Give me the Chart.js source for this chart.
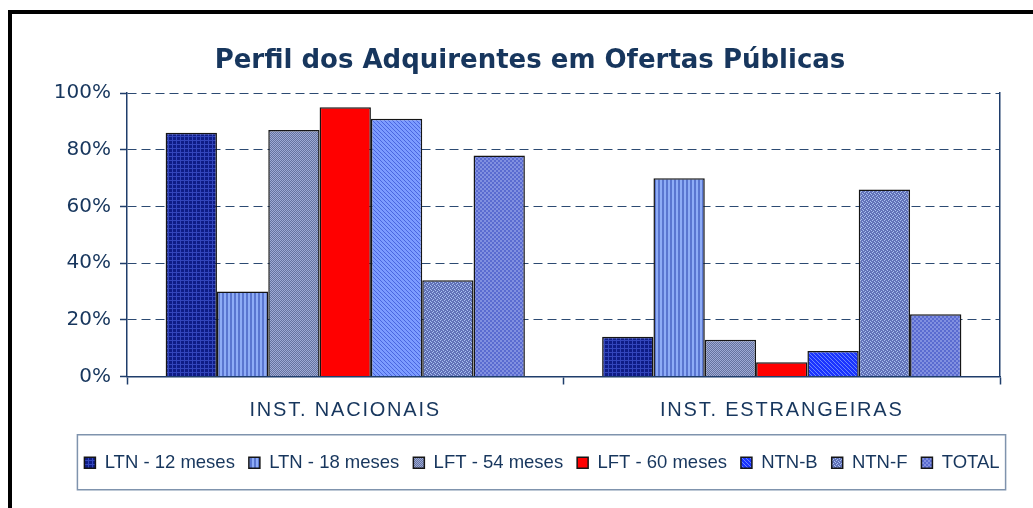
<!DOCTYPE html>
<html>
<head>
<meta charset="utf-8">
<script src="https://cdn.jsdelivr.net/npm/chart.js@4.4.1/dist/chart.umd.min.js"></script>
<style>
  html, body { margin: 0; padding: 0; background: #fff; overflow: hidden; }
  #frame { position: absolute; left: 8px; top: 10px; width: 2000px; height: 2000px;
           border-left: 4px solid #000; border-top: 4px solid #000; }
  #myChart { position: absolute; left: 0; top: 0; }
</style>
</head>
<body>
<div id="frame"></div>
<canvas id="myChart" width="1033" height="508"></canvas>
<script>
// data (percent)
const categories = ['INST. NACIONAIS', 'INST. ESTRANGEIRAS'];
const seriesNames = ['LTN - 12 meses', 'LTN - 18 meses', 'LFT - 54 meses', 'LFT - 60 meses', 'NTN-B', 'NTN-F', 'TOTAL'];
const ltn12 = [86, 14];
const ltn18 = [30, 70];
const lft54 = [87, 13];
const lft60 = [95, 5];
const ntnB = [91, 9];
const ntnF = [34, 66];
const total = [78, 22];

const NAVY = '#17365d';
const AXIS = '#1f3d6b';

// small repeating fill textures, like the excel patterns
function makePattern(size, bg, fg, test) {
    var c = document.createElement('canvas');
    c.width = size; c.height = size;
    var g = c.getContext('2d');
    g.fillStyle = bg;
    g.fillRect(0, 0, size, size);
    g.fillStyle = fg;
    for (var x = 0; x < size; x++) {
        for (var y = 0; y < size; y++) {
            if (test(x, y)) g.fillRect(x, y, 1, 1);
        }
    }
    return g.createPattern(c, 'repeat');
}

var pLtn12 = makePattern(4, '#0e1c86', '#3346bc', (x, y) => x === 0 || y === 0);
var pLtn18 = makePattern(4, '#5a76d0', '#8eacf6', (x, y) => x < 2);
var pLft54 = makePattern(4, '#65739f', '#9eaad6', (x, y) => (x + y) % 2 === 0);
var pNtnB = makePattern(4, '#1a34ff', '#6a86ff', (x, y) => x === y);
var pNtnBLight = makePattern(4, '#7c9cff', '#4a66e0', (x, y) => x === y);
var pNtnF = makePattern(4, '#6272b8', '#a8c0f0', (x, y) => (x === 0 && y === 0) || (x === 2 && y === 1) || (x === 1 && y === 3) || (x === 3 && y === 2));
var pTotal = makePattern(4, '#5a6bd0', '#8190e0', (x, y) => ((x >> 1) + (y >> 1)) % 2 === 0);

const seriesValues = [ltn12, ltn18, lft54, lft60, ntnB, ntnF, total];
const seriesFills = [pLtn12, pLtn18, pLft54, '#ff0000', [pNtnBLight, pNtnB], pNtnF, pTotal];
const legendFills = [pLtn12, pLtn18, pLft54, '#ff0000', pNtnB, pNtnF, pTotal];

var datasets = seriesNames.map((name, i) => ({
    label: name,
    data: seriesValues[i],
    backgroundColor: seriesFills[i],
    borderColor: '#151515',
    borderWidth: 1.5,
    barPercentage: 1,
    categoryPercentage: 0.823
}));

// extra drawing: legend frame, title/legend offset, spaced x labels
var framePlugin = {
    id: 'framePlugin',
    afterLayout(chart) {
        if (chart.titleBlock) chart.titleBlock.left += 20;
        if (chart.legend) {
            chart.legend.left += 22;
            chart.legend.right += 22;
        }
    },
    beforeDraw(chart) {
        var s = chart.scales.x;
        if (s && !s._spaced) {
            var orig = s.drawLabels;
            s.drawLabels = function (area) {
                var c = this.ctx;
                c.save();
                c.letterSpacing = '1.8px';
                orig.call(this, area);
                c.restore();
            };
            s._spaced = true;
        }
    },
    afterDraw(chart) {
        var hb = chart.legend.legendHitBoxes;
        if (!hb || !hb.length) return;
        var first = hb[0], last = hb[hb.length - 1];
        var cy = first.top + first.height / 2;
        var c = chart.ctx;
        c.save();
        c.strokeStyle = '#7f93ad';
        c.lineWidth = 1.5;
        c.strokeRect(first.left - 7, cy - 28, last.left + last.width + 6 - (first.left - 7), 55);
        c.restore();
    }
};

var ctx = document.getElementById('myChart').getContext('2d');
new Chart(ctx, {
    type: 'bar',
    data: { labels: categories, datasets: datasets },
    plugins: [framePlugin],
    options: {
        responsive: false,
        animation: false,
        layout: { padding: { left: 40, right: 33, top: 0, bottom: 26 } },
        scales: {
            x: {
                offset: true,
                grid: { offset: true, drawOnChartArea: false, drawTicks: true, tickLength: 8, tickColor: AXIS, tickWidth: 1.5 },
                border: { display: true, color: AXIS, width: 1.5 },
                ticks: { color: NAVY, padding: 14, maxRotation: 0, font: { family: 'Liberation Sans', size: 20 } },
                afterFit: s => { s.height = 63; }
            },
            y: {
                min: 0,
                max: 100,
                ticks: { stepSize: 20, color: NAVY, padding: 9, font: { family: 'DejaVu Sans', size: 20 },
                         callback: v => v + '%' },
                grid: { color: '#2c4a72', lineWidth: 1, tickLength: 7,
                        tickColor: AXIS, tickWidth: 1.5, tickBorderDash: [] },
                border: { display: true, color: AXIS, width: 1.5, dash: [9, 5] },
                afterFit: s => { s.width = 87; }
            },
            y2: {
                position: 'right',
                min: 0,
                max: 1,
                ticks: { display: false },
                grid: { drawOnChartArea: false, drawTicks: false },
                border: { display: true, color: AXIS, width: 1.5 },
                afterFit: s => { s.width = 0; }
            }
        },
        plugins: {
            tooltip: { enabled: false },
            title: {
                display: true,
                text: 'Perfil dos Adquirentes em Ofertas Públicas',
                color: NAVY,
                font: { family: 'DejaVu Sans', size: 26, weight: 'bold' },
                padding: { top: 46, bottom: 16 }
            },
            legend: {
                position: 'bottom',
                labels: {
                    color: NAVY,
                    boxWidth: 11,
                    boxHeight: 11,
                    padding: 14,
                    font: { family: 'Liberation Sans', size: 18.5 },
                    generateLabels: function (chart) {
                        var items = Chart.defaults.plugins.legend.labels.generateLabels(chart);
                        items.forEach((it, i) => {
                            it.fillStyle = legendFills[i];
                            it.strokeStyle = '#151515';
                            it.lineWidth = 1.5;
                        });
                        return items;
                    }
                }
            }
        }
    }
});
</script>
</body>
</html>
